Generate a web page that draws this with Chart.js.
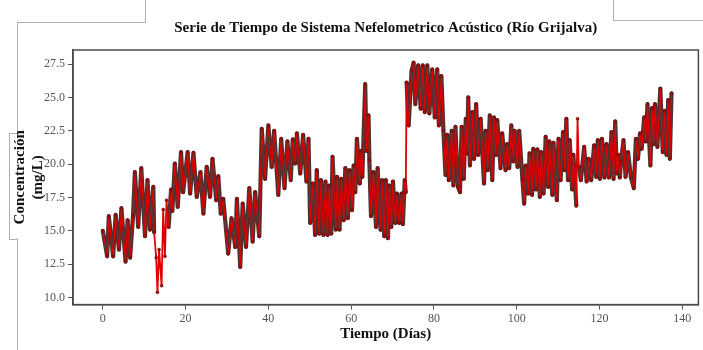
<!DOCTYPE html>
<html>
<head>
<meta charset="utf-8">
<script src="https://cdn.jsdelivr.net/npm/chart.js@4.4.1/dist/chart.umd.min.js"></script>
<style>
    html, body { margin: 0; padding: 0; background: #fff; }
    #wrap { position: relative; width: 703px; height: 350px; }
    canvas { position: absolute; left: 0; top: 0; }
    .edge { position: absolute; border-color: #b0b0b0; border-style: solid; border-width: 0; }
</style>
</head>
<body>
<div id="wrap">
    <!-- page frame lines around the figure -->
    <div class="edge" style="left:17px;top:0;width:128px;height:22px;border-right-width:1px;border-bottom-width:1px;"></div>
    <div class="edge" style="left:17px;top:22px;width:0;height:111px;border-left-width:1px;"></div>
    <div class="edge" style="left:9px;top:133px;width:8px;height:105px;border-left-width:1px;border-top-width:1px;border-bottom-width:1px;"></div>
    <div class="edge" style="left:17px;top:238px;width:0;height:112px;border-left-width:1px;"></div>
    <div class="edge" style="left:613px;top:0;width:90px;height:20px;border-left-width:1px;border-bottom-width:1px;"></div>
    <canvas id="tsChart" width="703" height="350"></canvas>
</div>
<script>
// Serie de tiempo (dias, mg/L)
const days = [
    0.0, 1.05, 1.45, 2.5, 3.1, 3.9, 4.5, 5.5, 6.0, 6.6, 7.3, 7.75, 8.55, 9.3, 10.2, 10.8, 11.4, 12.2,
    12.4, 12.9, 13.2, 13.6, 14.2, 14.6, 15.0, 15.4, 15.9, 16.5, 16.8, 17.4, 18.1, 18.9, 19.4, 20.5,
    21.1, 21.9, 22.7, 23.6, 24.3, 25.1, 25.9, 26.5, 27.4, 27.9, 28.5, 29.1, 30.3, 31.1, 32.0, 32.4,
    33.2, 33.8, 34.6, 35.4, 36.2, 36.8, 37.8, 38.4, 39.2, 40.0, 40.8, 41.4, 42.4, 43.1, 43.9, 44.6,
    45.4, 45.9, 46.5, 46.9, 47.7, 48.4, 49.2, 49.7, 50.1, 50.7, 51.3, 51.7, 52.3, 52.7, 53.3, 53.8,
    54.3, 54.7, 55.2, 55.5, 56.3, 56.6, 57.2, 57.6, 58.2, 58.6, 59.2, 59.6, 60.2, 60.6, 61.0, 61.4,
    62.1, 62.4, 62.7, 63.4, 63.7, 64.2, 64.4, 64.8, 65.4, 66.0, 66.4, 67.1, 67.5, 68.0, 68.4, 68.9,
    69.2, 69.7, 70.1, 70.7, 71.1, 71.6, 72.2, 72.5, 72.95, 73.2, 73.4, 73.9, 74.6, 75.1, 75.5, 76.2,
    76.8, 77.3, 77.8, 78.4, 78.9, 79.6, 80.2, 80.8, 81.2, 81.8, 82.3, 82.8, 83.2, 83.6, 84.3, 84.7,
    85.2, 85.8, 86.3, 86.7, 87.2, 87.7, 88.0, 88.3, 88.7, 89.3, 89.7, 90.2, 90.7, 91.3, 92.1, 92.5,
    93.0, 93.5, 94.1, 94.5, 95.0, 95.3, 96.1, 96.5, 97.3, 97.7, 98.2, 98.7, 99.2, 99.5, 100.2, 100.6,
    101.4, 101.8, 102.2, 102.8, 103.1, 103.7, 104.0, 104.7, 105.0, 105.6, 105.9, 106.5, 107.0, 107.6,
    107.9, 108.6, 108.9, 109.7, 110.1, 110.6, 111.2, 111.6, 112.0, 112.4, 112.8, 113.4, 113.7, 114.4,
    114.7, 115.0, 115.5, 116.3, 116.9, 117.4, 118.0, 118.7, 119.2, 119.6, 120.1, 120.6, 121.2, 121.7,
    122.3, 122.9, 123.4, 123.8, 124.2, 124.5, 124.9, 125.2, 125.8, 126.3, 126.9, 127.6, 128.3, 128.8,
    129.3, 129.8, 130.2, 130.8, 131.2, 131.6, 132.3, 132.7, 133.1, 133.4, 134.0, 134.7, 135.3, 135.7,
    136.2, 136.6, 137.0, 137.4
];
const conc = [
    15.0, 13.1, 16.1, 13.1, 16.2, 13.6, 16.7, 12.7, 15.8, 13.0, 16.1, 19.4, 15.3, 19.7, 14.6, 18.8, 15.1, 18.3,
    14.9, 13.0, 10.4, 13.6, 10.9, 16.6, 13.1, 17.3, 15.3, 18.1, 16.5, 20.05, 16.8, 20.9, 17.9, 20.9,
    17.8, 20.85, 17.55, 19.4, 16.3, 19.8, 17.55, 20.4, 17.3, 19.1, 16.3, 17.4, 13.3, 15.95, 13.8, 17.4,
    12.3, 17.05, 13.8, 18.2, 14.2, 17.9, 14.6, 22.65, 18.9, 22.9, 19.8, 22.5, 17.7, 21.9, 18.2, 21.7,
    18.8, 21.85, 20.05, 22.3, 19.3, 22.2, 18.7, 21.9, 15.6, 18.55, 14.7, 19.55, 14.8, 18.8, 14.7, 18.7,
    14.7, 18.4, 14.8, 20.55, 15.1, 19.05, 15.1, 18.9, 15.8, 19.7, 15.95, 19.55, 16.55, 19.9, 17.9, 21.9,
    18.55, 21.0, 19.05, 26.0, 21.0, 23.65, 20.3, 16.1, 19.4, 15.3, 19.7, 15.1, 18.8, 14.6, 18.8, 14.45,
    18.4, 15.3, 18.7, 15.6, 17.8, 15.6, 17.8, 15.5, 18.8, 17.9, 26.1, 22.9, 27.0, 27.6, 24.5, 27.4,
    24.15, 27.4, 23.9, 27.4, 23.8, 27.1, 23.5, 27.1, 22.9, 26.6, 22.5, 19.2, 22.2, 18.8, 22.5, 18.4,
    22.8, 18.3, 17.9, 22.8, 18.9, 23.4, 20.8, 25.0, 19.9, 23.9, 20.4, 24.5, 20.7, 23.4, 18.55, 22.5,
    19.55, 23.65, 18.8, 23.5, 20.7, 23.3, 19.7, 22.3, 19.55, 21.5, 19.7, 22.9, 20.2, 22.5, 19.8, 22.5,
    18.8, 17.05, 19.9, 17.8, 20.8, 17.7, 21.15, 18.1, 21.1, 17.55, 20.9, 17.8, 22.05, 18.3,
    21.7, 17.7, 21.6, 17.3, 21.9, 18.8, 22.4, 19.55, 23.4, 18.8, 21.8, 18.1, 20.7, 16.9,
    23.4, 19.8, 18.8, 21.3, 18.7, 20.4, 18.8, 21.4, 19.05, 21.8, 18.9, 21.9, 19.0, 21.5,
    19.0, 22.4, 18.9, 23.2, 19.3, 20.7, 19.0, 20.2, 21.8, 19.05, 20.9, 19.0, 18.2, 21.9,
    20.4, 22.3, 21.15, 23.5, 21.7, 24.5, 19.9, 24.2, 21.5, 24.5, 21.3, 25.65, 20.9, 24.0,
    20.7, 24.8, 20.4, 25.3
];
const xTicks = [0, 20, 40, 60, 80, 100, 120, 140];
const yTicks = [10.0, 12.5, 15.0, 17.5, 20.0, 22.5, 25.0, 27.5];
// tramos con pocos datos (solo linea roja delgada)
const sparseRanges = [[12.3, 15.9], [73.1, 73.5], [114.3, 115.1]];

const points = days.map((d, i) => ({ x: d, y: conc[i] }));
const serif = 'Liberation Serif, DejaVu Serif, serif';
const dark = 'rgba(45,15,15,0.85)';

function inSparse(ctx) {
    const a = ctx.p0.parsed.x, b = ctx.p1.parsed.x;
    return sparseRanges.some(r => a >= r[0] && b <= r[1]);
}

// dibuja el marco completo del area de graficado
const framePlugin = {
    id: 'frame',
    afterDraw(chart) {
        const a = chart.chartArea;
        const ctx = chart.ctx;
        ctx.save();
        ctx.strokeStyle = '#4a4a4a';
        ctx.lineWidth = 1.5;
        ctx.strokeRect(a.left, a.top, a.right - a.left, a.bottom - a.top);
        ctx.restore();
    }
};

new Chart(document.getElementById('tsChart').getContext('2d'), {
    type: 'line',
    data: {
        datasets: [{
            data: points,
            borderColor: '#e00000',
            borderWidth: 1.2,
            borderJoinStyle: 'round',
            pointRadius: 1.5,
            pointBackgroundColor: '#c80000',
            pointBorderColor: 'rgba(50,20,20,0.8)',
            pointBorderWidth: 0.6,
            tension: 0,
            segment: {
                borderWidth: ctx => inSparse(ctx) ? 1.8 : 1.2
            },
            order: 1
        }, {
            data: points,
            borderColor: dark,
            borderWidth: 4.2,
            borderJoinStyle: 'round',
            borderCapStyle: 'round',
            pointRadius: 0,
            tension: 0,
            segment: {
                borderColor: ctx => inSparse(ctx) ? 'rgba(0,0,0,0)' : dark
            },
            order: 2
        }]
    },
    options: {
        responsive: false,
        animation: false,
        layout: { padding: { left: 11, right: 2, top: 0, bottom: 7 } },
        plugins: {
            legend: { display: false },
            tooltip: { enabled: false },
            title: {
                display: true,
                fullSize: false,
                text: 'Serie de Tiempo de Sistema Nefelometrico Acústico (Río Grijalva)',
                color: '#111',
                font: { family: serif, size: 15, weight: 'bold' },
                padding: { top: 19, bottom: 13 }
            }
        },
        scales: {
            x: {
                type: 'linear',
                min: -7.2,
                max: 143.9,
                afterBuildTicks: axis => { axis.ticks = xTicks.map(v => ({ value: v })); },
                ticks: {
                    color: '#555',
                    font: { family: serif, size: 12 },
                    padding: 2,
                    maxRotation: 0
                },
                grid: { drawOnChartArea: false, tickLength: 5, color: '#555' },
                border: { color: '#4a4a4a', width: 1.5 },
                title: {
                    display: true,
                    text: 'Tiempo (Días)',
                    color: '#111',
                    font: { family: serif, size: 15, weight: 'bold' },
                    padding: { top: -3, bottom: 0 }
                }
            },
            y: {
                min: 9.48,
                max: 28.55,
                afterBuildTicks: axis => { axis.ticks = yTicks.map(v => ({ value: v })); },
                ticks: {
                    color: '#555',
                    font: { family: serif, size: 12 },
                    padding: 3,
                    callback: v => v.toFixed(1)
                },
                grid: { drawOnChartArea: false, tickLength: 5, color: '#555' },
                border: { color: '#4a4a4a', width: 1.5 },
                title: {
                    display: true,
                    text: ['Concentración', '(mg/L)'],
                    color: '#111',
                    font: { family: serif, size: 15, weight: 'bold', lineHeight: 1.2 },
                    padding: { top: 0, bottom: -6 }
                }
            }
        }
    },
    plugins: [framePlugin]
});
</script>
</body>
</html>
